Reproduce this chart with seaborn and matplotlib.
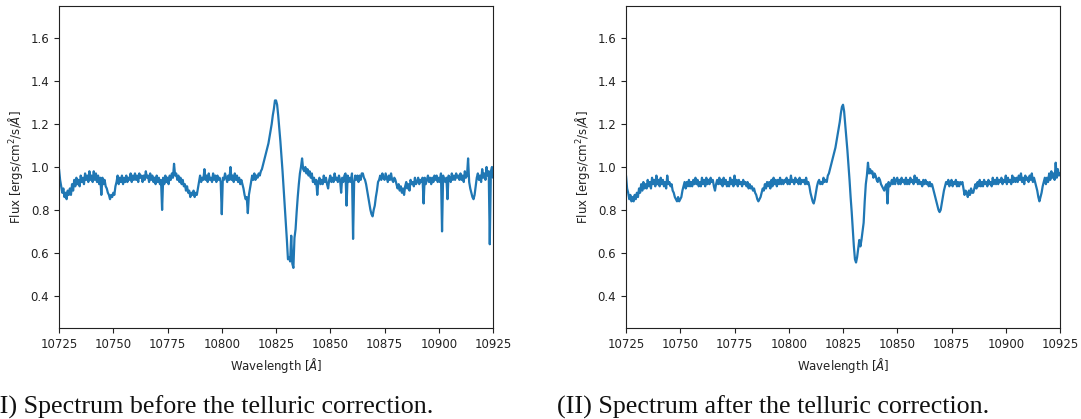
"""Helium 10830 spectrum before and after the telluric correction (two panels)."""

import matplotlib.pyplot as plt
import seaborn as sns

# common wavelength grid [A], 0.5 A steps
WAVE = [
    10725.0, 10725.5, 10726.0, 10726.5, 10727.0, 10727.5, 10728.0, 10728.5, 10729.0, 10729.5,
    10730.0, 10730.5, 10731.0, 10731.5, 10732.0, 10732.5, 10733.0, 10733.5, 10734.0, 10734.5,
    10735.0, 10735.5, 10736.0, 10736.5, 10737.0, 10737.5, 10738.0, 10738.5, 10739.0, 10739.5,
    10740.0, 10740.5, 10741.0, 10741.5, 10742.0, 10742.5, 10743.0, 10743.5, 10744.0, 10744.5,
    10745.0, 10745.5, 10746.0, 10746.5, 10747.0, 10747.5, 10748.0, 10748.5, 10749.0, 10749.5,
    10750.0, 10750.5, 10751.0, 10751.5, 10752.0, 10752.5, 10753.0, 10753.5, 10754.0, 10754.5,
    10755.0, 10755.5, 10756.0, 10756.5, 10757.0, 10757.5, 10758.0, 10758.5, 10759.0, 10759.5,
    10760.0, 10760.5, 10761.0, 10761.5, 10762.0, 10762.5, 10763.0, 10763.5, 10764.0, 10764.5,
    10765.0, 10765.5, 10766.0, 10766.5, 10767.0, 10767.5, 10768.0, 10768.5, 10769.0, 10769.5,
    10770.0, 10770.5, 10771.0, 10771.5, 10772.0, 10772.5, 10773.0, 10773.5, 10774.0, 10774.5,
    10775.0, 10775.5, 10776.0, 10776.5, 10777.0, 10777.5, 10778.0, 10778.5, 10779.0, 10779.5,
    10780.0, 10780.5, 10781.0, 10781.5, 10782.0, 10782.5, 10783.0, 10783.5, 10784.0, 10784.5,
    10785.0, 10785.5, 10786.0, 10786.5, 10787.0, 10787.5, 10788.0, 10788.5, 10789.0, 10789.5,
    10790.0, 10790.5, 10791.0, 10791.5, 10792.0, 10792.5, 10793.0, 10793.5, 10794.0, 10794.5,
    10795.0, 10795.5, 10796.0, 10796.5, 10797.0, 10797.5, 10798.0, 10798.5, 10799.0, 10799.5,
    10800.0, 10800.5, 10801.0, 10801.5, 10802.0, 10802.5, 10803.0, 10803.5, 10804.0, 10804.5,
    10805.0, 10805.5, 10806.0, 10806.5, 10807.0, 10807.5, 10808.0, 10808.5, 10809.0, 10809.5,
    10810.0, 10810.5, 10811.0, 10811.5, 10812.0, 10812.5, 10813.0, 10813.5, 10814.0, 10814.5,
    10815.0, 10815.5, 10816.0, 10816.5, 10817.0, 10817.5, 10818.0, 10818.5, 10819.0, 10819.5,
    10820.0, 10820.5, 10821.0, 10821.5, 10822.0, 10822.5, 10823.0, 10823.5, 10824.0, 10824.5,
    10825.0, 10825.5, 10826.0, 10826.5, 10827.0, 10827.5, 10828.0, 10828.5, 10829.0, 10829.5,
    10830.0, 10830.5, 10831.0, 10831.5, 10832.0, 10832.5, 10833.0, 10833.5, 10834.0, 10834.5,
    10835.0, 10835.5, 10836.0, 10836.5, 10837.0, 10837.5, 10838.0, 10838.5, 10839.0, 10839.5,
    10840.0, 10840.5, 10841.0, 10841.5, 10842.0, 10842.5, 10843.0, 10843.5, 10844.0, 10844.5,
    10845.0, 10845.5, 10846.0, 10846.5, 10847.0, 10847.5, 10848.0, 10848.5, 10849.0, 10849.5,
    10850.0, 10850.5, 10851.0, 10851.5, 10852.0, 10852.5, 10853.0, 10853.5, 10854.0, 10854.5,
    10855.0, 10855.5, 10856.0, 10856.5, 10857.0, 10857.5, 10858.0, 10858.5, 10859.0, 10859.5,
    10860.0, 10860.5, 10861.0, 10861.5, 10862.0, 10862.5, 10863.0, 10863.5, 10864.0, 10864.5,
    10865.0, 10865.5, 10866.0, 10866.5, 10867.0, 10867.5, 10868.0, 10868.5, 10869.0, 10869.5,
    10870.0, 10870.5, 10871.0, 10871.5, 10872.0, 10872.5, 10873.0, 10873.5, 10874.0, 10874.5,
    10875.0, 10875.5, 10876.0, 10876.5, 10877.0, 10877.5, 10878.0, 10878.5, 10879.0, 10879.5,
    10880.0, 10880.5, 10881.0, 10881.5, 10882.0, 10882.5, 10883.0, 10883.5, 10884.0, 10884.5,
    10885.0, 10885.5, 10886.0, 10886.5, 10887.0, 10887.5, 10888.0, 10888.5, 10889.0, 10889.5,
    10890.0, 10890.5, 10891.0, 10891.5, 10892.0, 10892.5, 10893.0, 10893.5, 10894.0, 10894.5,
    10895.0, 10895.5, 10896.0, 10896.5, 10897.0, 10897.5, 10898.0, 10898.5, 10899.0, 10899.5,
    10900.0, 10900.5, 10901.0, 10901.5, 10902.0, 10902.5, 10903.0, 10903.5, 10904.0, 10904.5,
    10905.0, 10905.5, 10906.0, 10906.5, 10907.0, 10907.5, 10908.0, 10908.5, 10909.0, 10909.5,
    10910.0, 10910.5, 10911.0, 10911.5, 10912.0, 10912.5, 10913.0, 10913.5, 10914.0, 10914.5,
    10915.0, 10915.5, 10916.0, 10916.5, 10917.0, 10917.5, 10918.0, 10918.5, 10919.0, 10919.5,
    10920.0, 10920.5, 10921.0, 10921.5, 10922.0, 10922.5, 10923.0, 10923.5, 10924.0, 10924.5,
    10925.0,
]

# flux [ergs/cm2/s/A] before the telluric correction (one row = 5 A)
FLUX_BEFORE = [
    0.99, 0.94, 0.91, 0.88, 0.90, 0.86, 0.88, 0.85, 0.89, 0.87,
    0.90, 0.87, 0.92, 0.89, 0.94, 0.91, 0.95, 0.92, 0.94, 0.91,
    0.96, 0.93, 0.95, 0.92, 0.97, 0.94, 0.96, 0.93, 0.98, 0.94,
    0.96, 0.93, 0.98, 0.94, 0.97, 0.93, 0.96, 0.92, 0.95, 0.87,
    0.95, 0.92, 0.94, 0.91, 0.90, 0.88, 0.87, 0.85, 0.87, 0.86,
    0.88, 0.87, 0.91, 0.93, 0.96, 0.92, 0.95, 0.93, 0.96, 0.92,
    0.95, 0.93, 0.96, 0.93, 0.95, 0.94, 0.97, 0.93, 0.96, 0.94,
    0.97, 0.94, 0.96, 0.93, 0.97, 0.95, 0.96, 0.93, 0.96, 0.94,
    0.98, 0.95, 0.96, 0.93, 0.97, 0.94, 0.96, 0.93, 0.95, 0.92,
    0.96, 0.93, 0.95, 0.92, 0.94, 0.80, 0.95, 0.92, 0.96, 0.93,
    0.95, 0.92, 0.96, 0.94, 0.97, 0.95, 1.015, 0.96, 0.97, 0.94,
    0.96, 0.93, 0.95, 0.92, 0.94, 0.91, 0.92, 0.89, 0.91, 0.88,
    0.89, 0.86, 0.88, 0.87, 0.89, 0.86, 0.88, 0.87, 0.90, 0.93,
    0.96, 0.93, 0.95, 0.94, 0.99, 0.94, 0.96, 0.93, 0.97, 0.94,
    0.95, 0.93, 0.97, 0.94, 0.96, 0.93, 0.96, 0.94, 0.95, 0.93,
    0.78, 0.95, 0.94, 0.97, 0.95, 0.93, 0.96, 0.94, 1.00, 0.94,
    0.96, 0.93, 0.97, 0.94, 0.96, 0.93, 0.95, 0.92, 0.94, 0.92,
    0.90, 0.87, 0.85, 0.86, 0.785, 0.87, 0.90, 0.93, 0.96, 0.94,
    0.97, 0.94, 0.96, 0.95, 0.97, 0.96, 0.98, 0.99, 1.01, 1.03,
    1.05, 1.07, 1.09, 1.11, 1.14, 1.17, 1.20, 1.24, 1.27, 1.31,
    1.31, 1.29, 1.24, 1.18, 1.12, 1.05, 0.98, 0.90, 0.82, 0.74,
    0.66, 0.57, 0.58, 0.56, 0.68, 0.55, 0.53, 0.67, 0.71, 0.79,
    0.86, 0.92, 0.97, 1.00, 1.04, 0.99, 0.98, 1.00, 0.97, 0.99,
    0.96, 0.98, 0.95, 0.97, 0.93, 0.95, 0.92, 0.94, 0.87, 0.93,
    0.95, 0.92, 0.94, 0.92, 0.96, 0.93, 0.95, 0.92, 0.90, 0.94,
    0.96, 0.93, 0.95, 0.93, 0.97, 0.94, 0.95, 0.93, 0.96, 0.94,
    0.88, 0.95, 0.93, 0.96, 0.97, 0.82, 0.96, 0.93, 0.95, 0.93,
    0.97, 0.665, 0.93, 0.96, 0.94, 0.96, 0.93, 0.96, 0.94, 0.97,
    0.97, 0.95, 0.94, 0.92, 0.89, 0.86, 0.83, 0.80, 0.78, 0.77,
    0.80, 0.82, 0.86, 0.89, 0.93, 0.94, 0.96, 0.94, 0.97, 0.95,
    0.94, 0.97, 0.95, 0.93, 0.96, 0.94, 0.97, 0.94, 0.93, 0.95,
    0.94, 0.92, 0.90, 0.92, 0.89, 0.91, 0.88, 0.90, 0.87, 0.91,
    0.93, 0.90, 0.92, 0.89, 0.94, 0.92, 0.93, 0.91, 0.95, 0.92,
    0.93, 0.95, 0.92, 0.94, 0.93, 0.95, 0.83, 0.95, 0.92, 0.94,
    0.96, 0.93, 0.95, 0.92, 0.95, 0.93, 0.96, 0.94, 0.96, 0.93,
    0.95, 0.93, 0.97, 0.70, 0.96, 0.94, 0.93, 0.95, 0.85, 0.96,
    0.95, 0.93, 0.97, 0.94, 0.96, 0.94, 0.97, 0.95, 0.96, 0.94,
    0.97, 0.94, 0.96, 0.93, 0.98, 0.95, 0.96, 1.04, 0.93, 0.90,
    0.88, 0.86, 0.85, 0.87, 0.91, 0.95, 0.97, 0.94, 0.96, 0.93,
    0.99, 0.95, 0.97, 0.94, 1.00, 0.96, 0.98, 0.64, 0.98, 1.00,
    0.95,
]

# flux after the telluric correction (one row = 5 A)
FLUX_AFTER = [
    0.96, 0.90, 0.88, 0.85, 0.87, 0.84, 0.86, 0.84, 0.87, 0.85,
    0.88, 0.86, 0.90, 0.88, 0.92, 0.89, 0.93, 0.90, 0.92, 0.90,
    0.94, 0.91, 0.93, 0.90, 0.95, 0.92, 0.94, 0.91, 0.96, 0.92,
    0.94, 0.91, 0.95, 0.92, 0.94, 0.91, 0.93, 0.90, 0.96, 0.92,
    0.93, 0.91, 0.92, 0.89, 0.88, 0.86, 0.85, 0.84, 0.86, 0.84,
    0.85, 0.86, 0.89, 0.91, 0.93, 0.90, 0.93, 0.91, 0.94, 0.91,
    0.93, 0.91, 0.94, 0.92, 0.95, 0.92, 0.94, 0.91, 0.93, 0.91,
    0.95, 0.92, 0.94, 0.91, 0.95, 0.92, 0.94, 0.92, 0.95, 0.93,
    0.94, 0.91, 0.89, 0.92, 0.94, 0.92, 0.95, 0.92, 0.94, 0.91,
    0.95, 0.92, 0.94, 0.91, 0.93, 0.91, 0.95, 0.92, 0.94, 0.91,
    0.96, 0.92, 0.94, 0.91, 0.94, 0.92, 0.93, 0.91, 0.94, 0.92,
    0.93, 0.91, 0.93, 0.90, 0.92, 0.90, 0.91, 0.89, 0.90, 0.88,
    0.87, 0.85, 0.84, 0.85, 0.86, 0.88, 0.90, 0.89, 0.92, 0.90,
    0.93, 0.91, 0.93, 0.90, 0.94, 0.91, 0.95, 0.92, 0.94, 0.91,
    0.94, 0.92, 0.95, 0.92, 0.94, 0.92, 0.94, 0.93, 0.95, 0.92,
    0.94, 0.92, 0.96, 0.93, 0.94, 0.92, 0.95, 0.93, 0.94, 0.92,
    0.95, 0.92, 0.94, 0.93, 0.94, 0.92, 0.95, 0.92, 0.93, 0.91,
    0.88, 0.86, 0.84, 0.83, 0.85, 0.88, 0.91, 0.93, 0.94, 0.92,
    0.93, 0.92, 0.95, 0.93, 0.94, 0.93, 0.96, 0.97, 0.99, 1.01,
    1.03, 1.05, 1.07, 1.09, 1.12, 1.15, 1.18, 1.21, 1.25, 1.28,
    1.29, 1.26, 1.20, 1.14, 1.08, 1.01, 0.94, 0.86, 0.79, 0.71,
    0.63, 0.57, 0.555, 0.58, 0.62, 0.66, 0.63, 0.66, 0.70, 0.74,
    0.84, 0.92, 0.96, 1.02, 0.97, 0.99, 0.97, 0.98, 0.95, 0.97,
    0.96, 0.94, 0.93, 0.95, 0.94, 0.92, 0.91, 0.90, 0.89, 0.91,
    0.92, 0.83, 0.93, 0.91, 0.92, 0.94, 0.92, 0.95, 0.92, 0.94,
    0.95, 0.92, 0.94, 0.92, 0.95, 0.93, 0.94, 0.92, 0.95, 0.92,
    0.94, 0.92, 0.95, 0.93, 0.94, 0.92, 0.96, 0.93, 0.95, 0.92,
    0.94, 0.92, 0.93, 0.91, 0.94, 0.92, 0.94, 0.92, 0.93, 0.91,
    0.93, 0.91, 0.92, 0.90, 0.88, 0.86, 0.84, 0.82, 0.80, 0.79,
    0.80, 0.83, 0.86, 0.89, 0.91, 0.93, 0.92, 0.94, 0.91, 0.93,
    0.94, 0.91, 0.93, 0.92, 0.94, 0.91, 0.93, 0.91, 0.93, 0.92,
    0.93, 0.90, 0.87, 0.89, 0.88, 0.86, 0.89, 0.87, 0.90, 0.88,
    0.88, 0.90, 0.92, 0.90, 0.93, 0.91, 0.94, 0.91, 0.93, 0.91,
    0.94, 0.92, 0.93, 0.91, 0.94, 0.92, 0.93, 0.91, 0.95, 0.92,
    0.94, 0.92, 0.95, 0.92, 0.94, 0.93, 0.95, 0.92, 0.94, 0.93,
    0.96, 0.92, 0.95, 0.93, 0.94, 0.92, 0.96, 0.93, 0.95, 0.93,
    0.95, 0.93, 0.96, 0.94, 0.97, 0.93, 0.95, 0.92, 0.96, 0.94,
    0.95, 0.93, 0.96, 0.94, 0.97, 0.93, 0.95, 0.93, 0.91, 0.89,
    0.86, 0.84, 0.86, 0.88, 0.91, 0.93, 0.95, 0.92, 0.95, 0.93,
    0.97, 0.94, 0.98, 0.95, 0.97, 0.94, 1.02, 0.95, 0.99, 0.96,
    0.97,
]

XTICKS = [10725, 10750, 10775, 10800, 10825, 10850, 10875, 10900, 10925]
YTICKS = [0.4, 0.6, 0.8, 1.0, 1.2, 1.4, 1.6]
CAPTIONS = [
    "(I) Spectrum before the telluric correction.",
    "(II) Spectrum after the telluric correction.",
]


def draw_spectrum(ax, wave, flux):
    sns.lineplot(x=wave, y=flux, ax=ax, color="#1f77b4", linewidth=1.6,
                 estimator=None, sort=False)
    ax.set_xlim(10725, 10925)
    ax.set_ylim(0.25, 1.75)
    ax.set_xticks(XTICKS)
    ax.set_yticks(YTICKS)
    ax.set_xlabel(r"Wavelength [$\AA$]", fontsize=8.5, color="#222222")
    ax.set_ylabel(r"Flux [ergs/cm$^2$/s/$\AA$]", fontsize=8.5, color="#222222")
    ax.tick_params(labelsize=8.5, colors="#222222", length=3.5, width=0.8)
    for spine in ax.spines.values():
        spine.set_linewidth(0.8)
        spine.set_color("#222222")


def main():
    sns.set_style("ticks")
    plt.rcParams["font.family"] = ["DejaVu Sans"]

    fig = plt.figure(figsize=(10.81, 4.19), dpi=100)
    ax_left = fig.add_axes([0.0546, 0.2172, 0.4015, 0.7685])
    ax_right = fig.add_axes([0.5791, 0.2172, 0.4015, 0.7685])

    draw_spectrum(ax_left, WAVE, FLUX_BEFORE)
    draw_spectrum(ax_right, WAVE, FLUX_AFTER)

    # the left caption starts just outside the figure, as in the source page
    caption_font = dict(fontsize=18.7, family=["Liberation Serif"], color="#111111",
                        va="baseline", ha="left")
    fig.text(-0.008, 0.014, CAPTIONS[0], **caption_font)
    fig.text(0.515, 0.014, CAPTIONS[1], **caption_font)

    fig.savefig("out.png", dpi=100)
    plt.close(fig)


if __name__ == "__main__":
    main()
